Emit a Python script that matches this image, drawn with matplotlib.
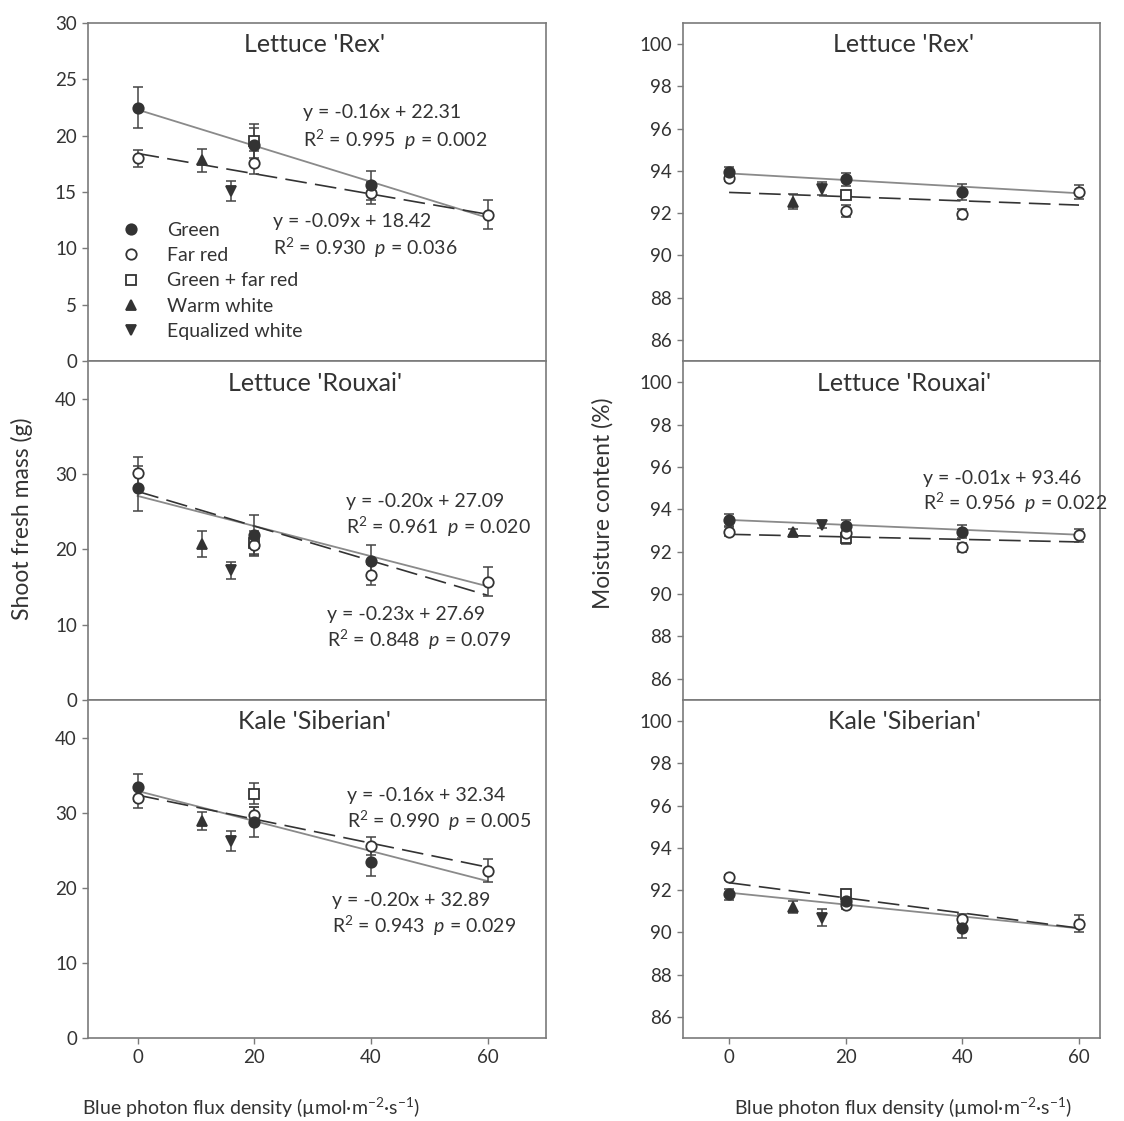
import matplotlib
matplotlib.use("Agg")
import matplotlib.pyplot as plt
from matplotlib.lines import Line2D

plt.rcParams['font.family'] = ['Lato', 'DejaVu Sans']
plt.rcParams['mathtext.fontset'] = 'custom'
plt.rcParams['mathtext.rm'] = 'Lato'
plt.rcParams['mathtext.it'] = 'Lato:italic'
plt.rcParams['mathtext.bf'] = 'Lato:bold'

TXT = '#333333'
SPINE = '#7a7a7a'

# ---------------- data ----------------
x_green = [0, 20, 40]
x_farred = [0, 20, 40, 60]
x_gfr = [20]
x_ww = [11]
x_ew = [16]
fit_x = [0, 60]

series_names = ['Green', 'Far red', 'Green + far red', 'Warm white', 'Equalized white']

# Shoot fresh mass, Lettuce 'Rex'
rex_fm_green = [22.5, 19.2, 15.6];            rex_fm_green_err = [1.8, 1.5, 1.3]
rex_fm_farred = [18.0, 17.6, 14.9, 13.0];     rex_fm_farred_err = [0.75, 1.0, 1.0, 1.25]
rex_fm_gfr = [19.5];                          rex_fm_gfr_err = [1.5]
rex_fm_ww = [17.8];                           rex_fm_ww_err = [1.0]
rex_fm_ew = [15.1];                           rex_fm_ew_err = [0.9]
rex_fm_fit_solid = [22.31, 12.71]
rex_fm_fit_dashed = [18.42, 13.02]

# Shoot fresh mass, Lettuce 'Rouxai'
rou_fm_green = [28.1, 21.9, 18.5];            rou_fm_green_err = [3.0, 2.7, 2.1]
rou_fm_farred = [30.1, 20.6, 16.6, 15.7];     rou_fm_farred_err = [2.2, 1.5, 1.4, 1.9]
rou_fm_gfr = [20.9];                          rou_fm_gfr_err = [1.5]
rou_fm_ww = [20.7];                           rou_fm_ww_err = [1.7]
rou_fm_ew = [17.2];                           rou_fm_ew_err = [1.15]
rou_fm_fit_solid = [27.09, 15.09]
rou_fm_fit_dashed = [27.69, 13.89]

# Shoot fresh mass, Kale 'Siberian'
kal_fm_green = [33.4, 28.7, 23.4];            kal_fm_green_err = [1.8, 2.0, 1.8]
kal_fm_farred = [31.9, 29.7, 25.5, 22.3];     kal_fm_farred_err = [1.3, 1.0, 1.2, 1.5]
kal_fm_gfr = [32.5];                          kal_fm_gfr_err = [1.4]
kal_fm_ww = [28.9];                           kal_fm_ww_err = [1.2]
kal_fm_ew = [26.2];                           kal_fm_ew_err = [1.3]
kal_fm_fit_solid = [32.89, 20.89]
kal_fm_fit_dashed = [32.34, 22.74]

# Moisture content, Lettuce 'Rex'
rex_mc_green = [93.96, 93.6, 93.0];           rex_mc_green_err = [0.2, 0.3, 0.4]
rex_mc_farred = [93.65, 92.1, 91.95, 93.0];   rex_mc_farred_err = [0.15, 0.3, 0.25, 0.35]
rex_mc_gfr = [92.86];                         rex_mc_gfr_err = [0.15]
rex_mc_ww = [92.55];                          rex_mc_ww_err = [0.35]
rex_mc_ew = [93.15];                          rex_mc_ew_err = [0.3]
rex_mc_fit_solid = [93.88, 92.94]
rex_mc_fit_dashed = [92.98, 92.38]

# Moisture content, Lettuce 'Rouxai'
rou_mc_green = [93.5, 93.2, 92.95];           rou_mc_green_err = [0.3, 0.3, 0.3]
rou_mc_farred = [92.95, 92.9, 92.2, 92.78];   rou_mc_farred_err = [0.2, 0.2, 0.2, 0.3]
rou_mc_gfr = [92.65];                         rou_mc_gfr_err = [0.3]
rou_mc_ww = [92.92];                          rou_mc_ww_err = [0.15]
rou_mc_ew = [93.28];                          rou_mc_ew_err = [0.15]
rou_mc_fit_solid = [93.5, 92.8]
rou_mc_fit_dashed = [92.82, 92.46]

# Moisture content, Kale 'Siberian'
kal_mc_green = [91.8, 91.5, 90.2];            kal_mc_green_err = [0.25, 0.2, 0.45]
kal_mc_farred = [92.6, 91.3, 90.65, 90.4];    kal_mc_farred_err = [0.1, 0.2, 0.2, 0.4]
kal_mc_gfr = [91.8];                          kal_mc_gfr_err = [0.2]
kal_mc_ww = [91.2];                           kal_mc_ww_err = [0.3]
kal_mc_ew = [90.7];                           kal_mc_ew_err = [0.4]
kal_mc_fit_solid = [91.88, 90.19]
kal_mc_fit_dashed = [92.35, 90.2]

titles = ["Lettuce 'Rex'", "Lettuce 'Rouxai'", "Kale 'Siberian'"]
fm_yticks = [[0, 5, 10, 15, 20, 25, 30], [0, 10, 20, 30, 40], [0, 10, 20, 30, 40]]
fm_ylims = [(0, 30), (0, 45), (0, 45)]
mc_yticks = [86, 88, 90, 92, 94, 96, 98, 100]
mc_ylim = (85, 101)
xticks = [0, 20, 40, 60]

# ---------------- styles ----------------
styles = [
    dict(marker='o', mfc='#333333', mec='#333333'),
    dict(marker='o', mfc='white', mec='#333333'),
    dict(marker='s', mfc='white', mec='#333333'),
    dict(marker='^', mfc='#333333', mec='#333333'),
    dict(marker='v', mfc='#333333', mec='#333333'),
]
MS = 7.5

panels_fm = [
    (rex_fm_green, rex_fm_green_err, rex_fm_farred, rex_fm_farred_err, rex_fm_gfr, rex_fm_gfr_err,
     rex_fm_ww, rex_fm_ww_err, rex_fm_ew, rex_fm_ew_err, rex_fm_fit_solid, rex_fm_fit_dashed),
    (rou_fm_green, rou_fm_green_err, rou_fm_farred, rou_fm_farred_err, rou_fm_gfr, rou_fm_gfr_err,
     rou_fm_ww, rou_fm_ww_err, rou_fm_ew, rou_fm_ew_err, rou_fm_fit_solid, rou_fm_fit_dashed),
    (kal_fm_green, kal_fm_green_err, kal_fm_farred, kal_fm_farred_err, kal_fm_gfr, kal_fm_gfr_err,
     kal_fm_ww, kal_fm_ww_err, kal_fm_ew, kal_fm_ew_err, kal_fm_fit_solid, kal_fm_fit_dashed),
]
panels_mc = [
    (rex_mc_green, rex_mc_green_err, rex_mc_farred, rex_mc_farred_err, rex_mc_gfr, rex_mc_gfr_err,
     rex_mc_ww, rex_mc_ww_err, rex_mc_ew, rex_mc_ew_err, rex_mc_fit_solid, rex_mc_fit_dashed),
    (rou_mc_green, rou_mc_green_err, rou_mc_farred, rou_mc_farred_err, rou_mc_gfr, rou_mc_gfr_err,
     rou_mc_ww, rou_mc_ww_err, rou_mc_ew, rou_mc_ew_err, rou_mc_fit_solid, rou_mc_fit_dashed),
    (kal_mc_green, kal_mc_green_err, kal_mc_farred, kal_mc_farred_err, kal_mc_gfr, kal_mc_gfr_err,
     kal_mc_ww, kal_mc_ww_err, kal_mc_ew, kal_mc_ew_err, kal_mc_fit_solid, kal_mc_fit_dashed),
]

fm_annot = [
    [("y = -0.16x + 22.31", 0.469, 0.734), ("R$^2$ = 0.995  $p$ = 0.002", 0.469, 0.654),
     ("y = -0.09x + 18.42", 0.404, 0.412), ("R$^2$ = 0.930  $p$ = 0.036", 0.404, 0.334)],
    [("y = -0.20x + 27.09", 0.563, 0.585), ("R$^2$ = 0.961  $p$ = 0.020", 0.563, 0.511),
     ("y = -0.23x + 27.69", 0.522, 0.251), ("R$^2$ = 0.848  $p$ = 0.079", 0.522, 0.177)],
    [("y = -0.16x + 32.34", 0.565, 0.717), ("R$^2$ = 0.990  $p$ = 0.005", 0.565, 0.643),
     ("y = -0.20x + 32.89", 0.533, 0.408), ("R$^2$ = 0.943  $p$ = 0.029", 0.533, 0.331)],
]
mc_annot = [
    [],
    [("y = -0.01x + 93.46", 0.575, 0.654), ("R$^2$ = 0.956  $p$ = 0.022", 0.575, 0.580)],
    [],
]

fig = plt.figure(figsize=(11.24, 11.21), dpi=100)

W, H = 1124, 1121
rows_px = [(23, 361), (361, 700), (700, 1038)]
left_px = (88, 546)
right_px = (683, 1100)


def make_ax(xpx, ypx):
    return fig.add_axes([xpx[0] / W, (H - ypx[1]) / H, (xpx[1] - xpx[0]) / W, (ypx[1] - ypx[0]) / H])


def draw_panel(ax, d, xlim, ylim, yticks, title, title_x, annots, show_xlabels):
    (g, ge, fr, fre, gfr, gfre, ww, wwe, ew, ewe, fs, fd) = d
    ax.plot(fit_x, fs, color='#8a8a8a', lw=1.3, zorder=2)
    ax.plot(fit_x, fd, color='#333333', lw=1.2, dashes=(13, 5), zorder=2)
    data = [(x_green, g, ge), (x_farred, fr, fre), (x_gfr, gfr, gfre), (x_ww, ww, wwe), (x_ew, ew, ewe)]
    order = [2, 1, 0, 3, 4]
    for i in order:
        xs, ys, es = data[i]
        ax.errorbar(xs, ys, yerr=es, fmt='none', ecolor='#444444', elinewidth=1.1,
                    capsize=3.8, capthick=1.1, zorder=3)
        ax.plot(xs, ys, linestyle='none', ms=MS, mew=1.3, zorder=4 + (i == 0), **styles[i])
    ax.set_xlim(*xlim)
    ax.set_ylim(*ylim)
    ax.set_yticks(yticks)
    ax.set_xticks(xticks)
    ax.tick_params(direction='out', length=4, width=1, color=SPINE, labelcolor=TXT,
                   labelsize=13.5, pad=4)
    if not show_xlabels:
        ax.tick_params(axis='x', labelbottom=False)
    for s in ax.spines.values():
        s.set_color(SPINE)
        s.set_linewidth(1.2)
    ax.text(title_x, 0.935, title, transform=ax.transAxes, ha='center', va='center',
            fontsize=18, color=TXT)
    for txt, tx, ty in annots:
        ax.text(tx, ty, txt, transform=ax.transAxes, ha='left', va='center', fontsize=14,
                color=TXT, clip_on=False)


for r in range(3):
    axl = make_ax(left_px, rows_px[r])
    draw_panel(axl, panels_fm[r], (-8.5, 70), fm_ylims[r], fm_yticks[r], titles[r],
               0.495, fm_annot[r], r == 2)
    axr = make_ax(right_px, rows_px[r])
    draw_panel(axr, panels_mc[r], (-7.9, 63.6), mc_ylim, mc_yticks, titles[r],
               0.53, mc_annot[r], r == 2)
    if r == 0:
        handles = [Line2D([], [], linestyle='none', ms=MS, mew=1.3, **styles[i])
                   for i in range(5)]
        axl.legend(handles, series_names, loc='lower left', bbox_to_anchor=(0.072, 0.062),
                   frameon=False, fontsize=14, handlelength=1.0, handletextpad=1.35,
                   labelspacing=0.43, borderpad=0, borderaxespad=0, labelcolor=TXT)

fig.text(22 / W, 1 - 519 / H, 'Shoot fresh mass (g)', rotation=90, ha='center', va='center',
         fontsize=16.5, color=TXT)
fig.text(603 / W, 1 - 503 / H, 'Moisture content (%)', rotation=90, ha='center', va='center',
         fontsize=16.5, color=TXT)
xlab = 'Blue photon flux density (µmol·m$^{-2}$·s$^{-1}$)'
fig.text(251 / W, 1 - 1108 / H, xlab, ha='center', va='center', fontsize=14, color=TXT)
fig.text(903 / W, 1 - 1108 / H, xlab, ha='center', va='center', fontsize=14, color=TXT)

fig.savefig('out.png', dpi=100)
